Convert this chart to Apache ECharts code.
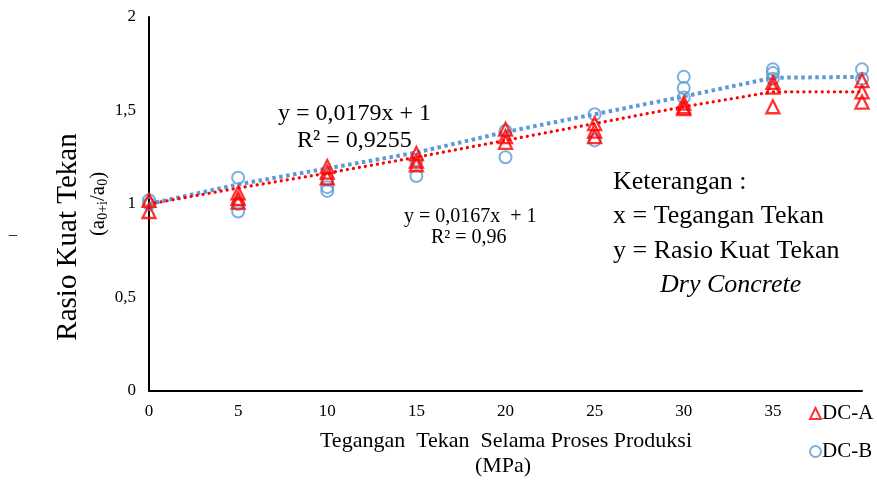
<!DOCTYPE html>
<html>
<head>
<meta charset="utf-8">
<script src="https://cdn.jsdelivr.net/npm/echarts@6/dist/echarts.min.js"></script>
<style>html,body{margin:0;padding:0;background:#fff;}#c{width:877px;height:482px;}</style>
</head>
<body>
<div id="c"></div>
<script>
var xGroups = [0, 5, 10, 15, 20, 25, 30, 35, 40];
var dcA = [
  [1.02, 0.96],
  [1.06, 1.03, 1.01],
  [1.20, 1.17, 1.14],
  [1.27, 1.23, 1.21],
  [1.40, 1.36, 1.33],
  [1.43, 1.39, 1.36],
  [1.54, 1.52, 1.51],
  [1.65, 1.625, 1.52],
  [1.66, 1.60, 1.545]
];
var dcB = [
  [1.02, 1.00],
  [1.14, 1.00, 0.96],
  [1.13, 1.09, 1.07],
  [1.235, 1.15],
  [1.39, 1.25],
  [1.48, 1.34],
  [1.68, 1.62, 1.57],
  [1.72, 1.70, 1.67],
  [1.72, 1.67]
];
var lineA = [1.00, 1.085, 1.165, 1.25, 1.34, 1.43, 1.52, 1.60, 1.60];
var lineB = [1.00, 1.105, 1.19, 1.275, 1.385, 1.48, 1.575, 1.675, 1.68];

function toPoints(groups) {
  var out = [];
  groups.forEach(function (vals, i) {
    vals.forEach(function (v) { out.push([xGroups[i], v]); });
  });
  return out;
}
function toLine(vals) {
  return vals.map(function (v, i) { return [xGroups[i], v]; });
}

var FONT = 'Liberation Serif';
var RED = '#FF0000', BLUE = '#5B9BD5';
var chart = echarts.init(document.getElementById('c'));
chart.setOption({
  backgroundColor: '#fff',
  animation: false,
  grid: { left: 149, right: 15, top: 17, bottom: 91, containLabel: false },
  xAxis: {
    type: 'value', min: 0, max: 40, interval: 5,
    axisLine: { show: true, lineStyle: { color: '#000', width: 2 } },
    axisTick: { show: false },
    splitLine: { show: false },
    axisLabel: {
      margin: 12, fontFamily: FONT, fontSize: 17, color: '#000',
      formatter: function (v) { return v === 40 ? '' : String(v); }
    }
  },
  yAxis: {
    type: 'value', min: 0, max: 2, interval: 0.5,
    axisLine: { show: true, lineStyle: { color: '#000', width: 2 } },
    axisTick: { show: false },
    splitLine: { show: false },
    axisLabel: {
      margin: 13, fontFamily: FONT, fontSize: 17, color: '#000',
      formatter: function (v) { return String(v).replace('.', ','); }
    }
  },
  legend: {
    orient: 'vertical', left: 804, top: 398, itemGap: 17,
    itemWidth: 11, itemHeight: 11,
    data: ['DC-A', 'DC-B'],
    textStyle: { fontFamily: FONT, fontSize: 21, color: '#000', padding: [0, 0, 0, -4] }
  },
  series: [
    {
      name: 'DC-B', type: 'scatter', data: toPoints(dcB), symbol: 'circle', symbolSize: 12, z: 2,
      itemStyle: { color: 'rgba(255,255,255,0)', borderColor: BLUE, borderWidth: 2 }
    },
    {
      name: 'lineB', type: 'line', data: toLine(lineB), symbol: 'none', z: 3,
      lineStyle: { color: BLUE, width: 4, type: [3.5, 3.5] }
    },
    {
      name: 'lineA', type: 'line', data: toLine(lineA), symbol: 'none', z: 3,
      lineStyle: { color: RED, width: 3.2, type: [0.1, 6], cap: 'round' }
    },
    {
      name: 'DC-A', type: 'scatter', data: toPoints(dcA), symbol: 'triangle', symbolSize: 13, z: 4,
      itemStyle: { color: 'rgba(255,255,255,0)', borderColor: RED, borderWidth: 2.3 }
    }
  ],
  graphic: [
    { type: 'text', x: 278, y: 114, style: { text: 'y = 0,0179x + 1', font: '24px "Liberation Serif"', fill: '#000', verticalAlign: 'middle' } },
    { type: 'text', x: 297, y: 141, style: { text: 'R² = 0,9255', font: '24px "Liberation Serif"', fill: '#000', verticalAlign: 'middle' } },
    { type: 'text', x: 404, y: 217, style: { text: 'y = 0,0167x  + 1', font: '20px "Liberation Serif"', fill: '#000', verticalAlign: 'middle' } },
    { type: 'text', x: 431, y: 238, style: { text: 'R² = 0,96', font: '20px "Liberation Serif"', fill: '#000', verticalAlign: 'middle' } },
    { type: 'text', x: 613, y: 182, style: { text: 'Keterangan :', font: '26px "Liberation Serif"', fill: '#000', verticalAlign: 'middle' } },
    { type: 'text', x: 613, y: 216, style: { text: 'x = Tegangan Tekan', font: '26px "Liberation Serif"', fill: '#000', verticalAlign: 'middle' } },
    { type: 'text', x: 613, y: 251, style: { text: 'y = Rasio Kuat Tekan', font: '26px "Liberation Serif"', fill: '#000', verticalAlign: 'middle' } },
    { type: 'text', x: 660, y: 285, style: { text: 'Dry Concrete', font: 'italic 26px "Liberation Serif"', fill: '#000', verticalAlign: 'middle' } },
    { type: 'text', x: 506, y: 441, style: { text: 'Tegangan  Tekan  Selama Proses Produksi', font: '22px "Liberation Serif"', fill: '#000', align: 'center', verticalAlign: 'middle' } },
    { type: 'text', x: 503, y: 466, style: { text: '(MPa)', font: '22px "Liberation Serif"', fill: '#000', align: 'center', verticalAlign: 'middle' } },
    { type: 'text', x: 68, y: 237, rotation: Math.PI / 2, style: { text: 'Rasio Kuat Tekan', font: '29px "Liberation Serif"', fill: '#000', align: 'center', verticalAlign: 'middle' } },
    { type: 'text', x: 98, y: 204, rotation: Math.PI / 2, style: {
        text: '{n|(a}{s|0+i}{n|/a}{s|0}{n|)}', align: 'center', verticalAlign: 'middle',
        rich: {
          n: { fontFamily: FONT, fontSize: 21, lineHeight: 24, fill: '#000', color: '#000' },
          s: { fontFamily: FONT, fontSize: 14, lineHeight: 10, verticalAlign: 'bottom', fill: '#000', color: '#000' }
        }
      } },
    { type: 'text', x: 13, y: 235, style: { text: '–', font: '16px "Liberation Serif"', fill: '#000', align: 'center', verticalAlign: 'middle' } }
  ]
});
</script>
</body>
</html>
